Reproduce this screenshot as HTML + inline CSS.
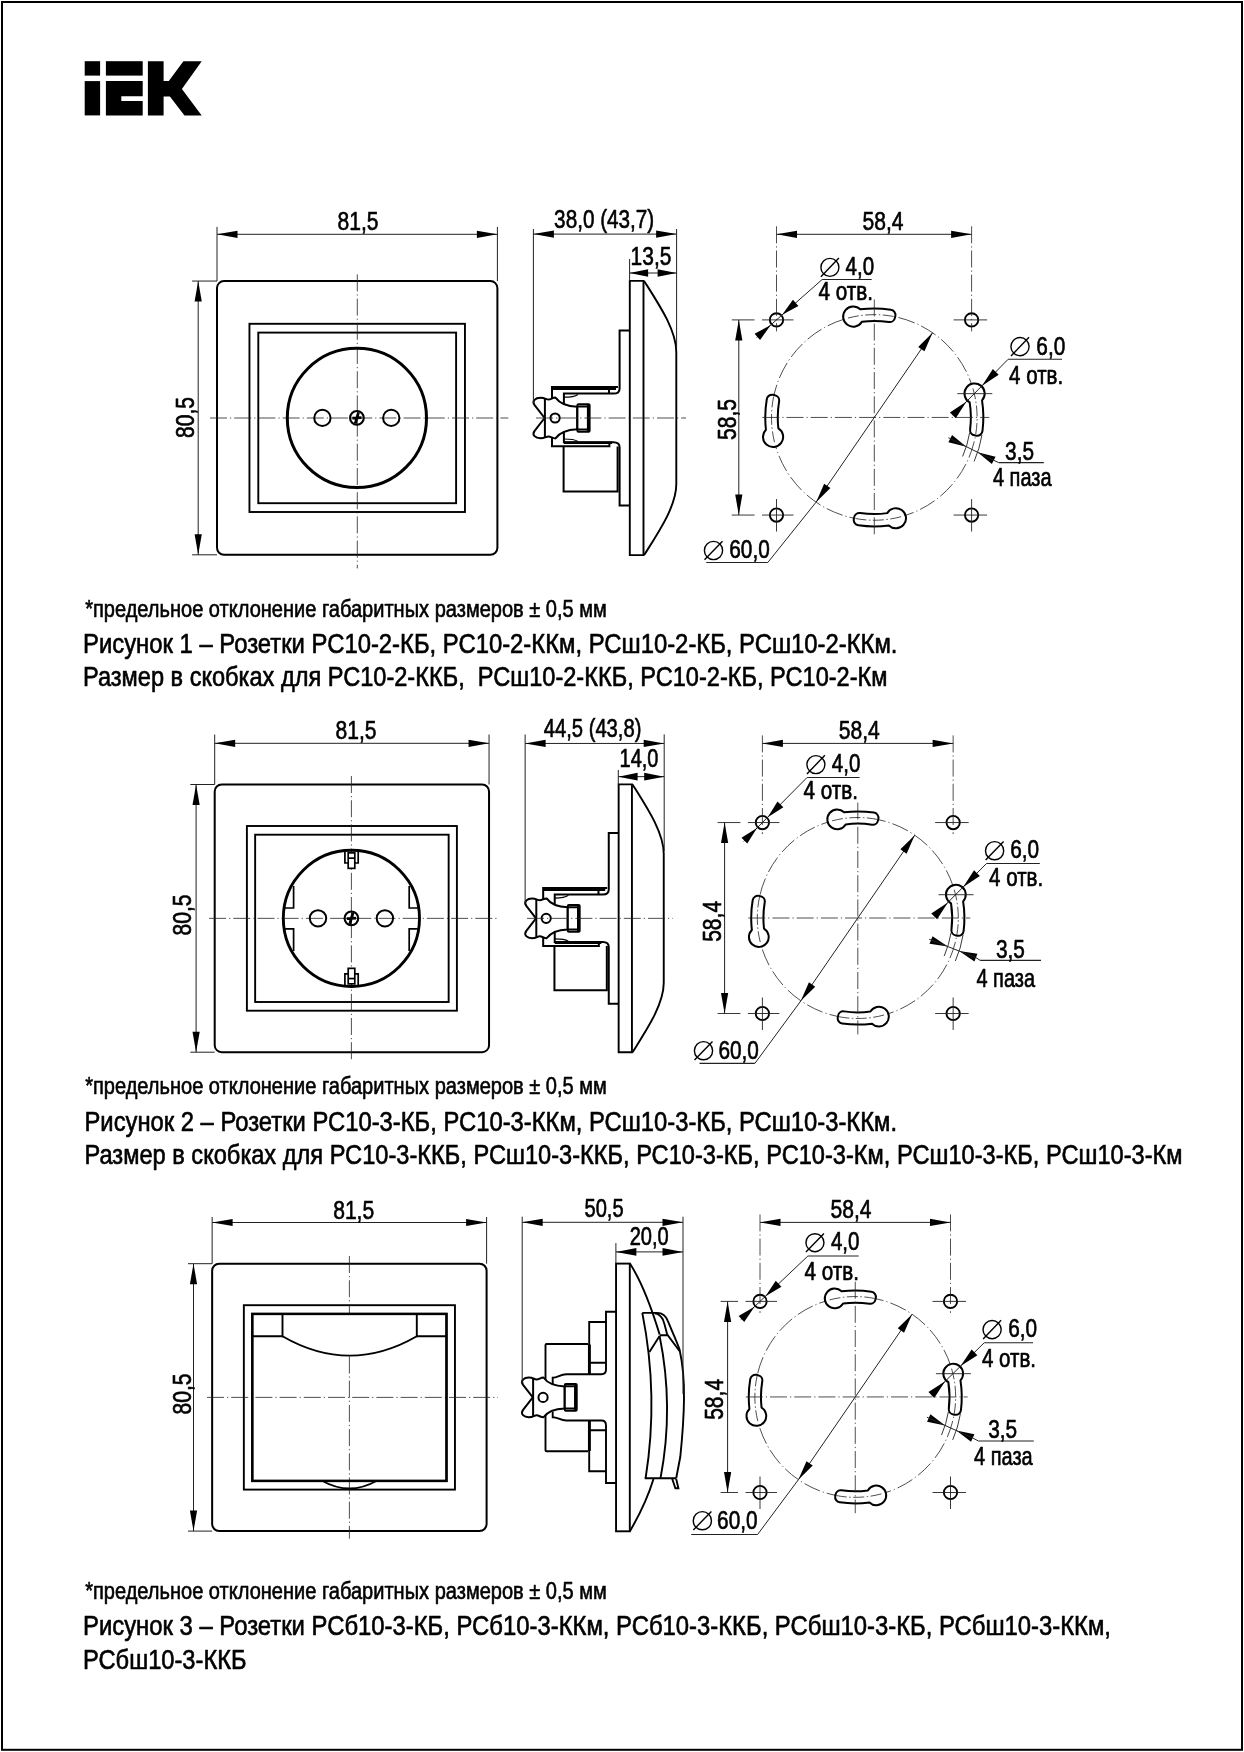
<!DOCTYPE html>
<html lang="ru"><head><meta charset="utf-8"><title>IEK</title>
<style>html,body{margin:0;padding:0;background:#fff}body{width:1244px;height:1752px;overflow:hidden}svg{display:block;will-change:transform}text{font-family:"Liberation Sans",sans-serif;fill:#000;stroke:#000;stroke-width:0.65px;stroke-linejoin:round}</style></head>
<body>
<svg width="1244" height="1752" viewBox="0 0 1244 1752" fill="none" stroke="#000">
<rect x="2" y="2" width="1240" height="1747.8" stroke-width="2"/>
<g fill="#000" stroke="none"><rect x="84.7" y="61.2" width="15.4" height="14.4"/><rect x="84.7" y="81.1" width="15.4" height="34.3"/><rect x="105.9" y="61.2" width="36.8" height="14.4"/><path d="M105.9,81.1 H142.7 V96.3 H121.3 V101 H142.7 V115.4 H105.9 Z"/><path d="M147.9,61.2 H163.6 V81.1 H168.8 L183.4,61.2 H201.7 L181.9,89 L201.7,115.4 H184.5 L169.9,96.6 L163.6,96.6 V115.4 H147.9 Z"/></g>
<rect x="217.00" y="281.05" width="280.40" height="273.75" rx="7" stroke-width="2.0" />
<rect x="249.45" y="323.80" width="215.50" height="188.20" rx="0" stroke-width="1.9" />
<rect x="258.30" y="332.60" width="197.80" height="170.60" rx="0" stroke-width="1.9" />
<line x1="357.30" y1="274.40" x2="357.30" y2="568.40" stroke-width="0.8" stroke-dasharray="17 3 1.2 3" stroke="#222"/>
<line x1="210.00" y1="418.00" x2="508.30" y2="418.00" stroke-width="0.8" stroke-dasharray="17 3 1.2 3" stroke="#222"/>
<line x1="217.00" y1="226.90" x2="217.00" y2="281.05" stroke-width="1.0" stroke="#222"/>
<line x1="497.40" y1="226.90" x2="497.40" y2="281.05" stroke-width="1.0" stroke="#222"/>
<line x1="217.00" y1="234.30" x2="497.40" y2="234.30" stroke-width="1.0" stroke="#222"/>
<polygon points="217.00,234.30 237.50,237.90 237.50,230.70" fill="#000" stroke="none"/>
<polygon points="497.40,234.30 476.90,230.70 476.90,237.90" fill="#000" stroke="none"/>
<line x1="192.10" y1="281.05" x2="217.00" y2="281.05" stroke-width="1.0" stroke="#222"/>
<line x1="192.10" y1="554.80" x2="217.00" y2="554.80" stroke-width="1.0" stroke="#222"/>
<line x1="198.20" y1="281.05" x2="198.20" y2="554.80" stroke-width="1.0" stroke="#222"/>
<polygon points="198.20,281.05 194.60,301.55 201.80,301.55" fill="#000" stroke="none"/>
<polygon points="198.20,554.80 201.80,534.30 194.60,534.30" fill="#000" stroke="none"/>
<text transform="translate(358.10,230.20) translate(-20.51,0) scale(0.8100,1)" font-size="26">81,5</text>
<text transform="translate(193.60,417.50) rotate(-90) translate(-20.51,0) scale(0.8100,1)" font-size="26">80,5</text>
<circle cx="356.90" cy="417.95" r="69.60" stroke-width="3.0" />
<circle cx="322.40" cy="417.90" r="8.15" stroke-width="2.0" />
<circle cx="391.25" cy="417.90" r="8.15" stroke-width="2.0" />
<circle cx="356.90" cy="417.90" r="6.85" stroke-width="2.1" />
<path d="M352.29999999999995,418.2 L361.5,417.59999999999997 M358.5,412.29999999999995 L355.29999999999995,423.5" stroke-width="2.8" />
<path d="M 629.80 280.90 L 643.50 280.90 L 643.50 555.10 L 629.80 555.10 Z" stroke-width="1.9" />
<path d="M 644.10 280.90 C 659.00 304.50 676.30 330.00 676.30 352.00 L 676.30 484.00 C 676.30 506.00 659.00 531.50 644.10 555.10" stroke-width="1.9" />
<path d="M 629.80 330.60 L 619.60 330.60 L 619.60 388.40 Q 619.60 393.60 613.50 393.60 L 563.90 393.60 L 563.90 405.90" stroke-width="2.0" />
<path d="M 552.00 399.40 L 552.00 387.00 L 618.00 387.00" stroke-width="2.0" />
<path d="M 552.00 388.60 L 616.00 388.60" stroke-width="2.6" />
<path d="M 609.00 388.40 L 609.00 393.60" stroke-width="2.0" />
<path d="M 564.00 397.20 Q 574.00 397.20 578.00 394.40" stroke-width="1.2" />
<path d="M 629.80 505.50 L 619.60 505.50 L 619.60 447.40 Q 619.60 442.20 613.50 442.20 L 563.90 442.20 L 563.90 430.40" stroke-width="2.0" />
<path d="M 552.00 437.40 L 552.00 446.30 L 609.40 446.30 L 609.40 442.20" stroke-width="2.0" />
<path d="M 563.90 442.80 L 612.00 442.80" stroke-width="2.6" />
<path d="M 564.00 439.00 Q 574.00 439.00 578.00 441.40" stroke-width="1.2" />
<path d="M 563.60 446.40 L 563.60 491.50 L 617.60 491.50 L 617.60 446.40" stroke-width="2.0" />
<path d="M 544.60,418.00 L 534.60,405.20 C 531.50,400.90 535.50,397.70 540.50,397.70 C 545.00,397.70 546.00,399.60 548.50,399.60 C 551.00,399.60 552.50,397.60 555.50,397.60 C 560.00,403.90 568.00,406.40 577.20,406.70 L 577.20,429.30 C 568.00,429.60 560.00,432.10 555.50,438.40 C 552.50,438.40 551.00,436.40 548.50,436.40 C 546.00,436.40 545.00,438.30 540.50,438.30 C 535.50,438.30 531.50,435.10 534.60,430.80 Z" stroke-width="2.0" fill="#fff" stroke-linejoin="round"/>
<path d="M544.90,399.00 L544.90,437.00" stroke-width="2.0" />
<circle cx="555.10" cy="418.00" r="4.60" stroke-width="2.0" />
<rect x="577.40" y="404.30" width="12.20" height="27.50" rx="1" stroke-width="2.0" fill="#fff"/>
<path d="M577.40,406.60 L588.00,406.60 M577.40,429.50 L588.00,429.50" stroke-width="2.0" />
<path d="M588.20,404.90 L588.20,431.20" stroke-width="2.6" />
<line x1="536.00" y1="418.00" x2="686.00" y2="418.00" stroke-width="0.8" stroke-dasharray="17 3 1.2 3" stroke="#222"/>
<line x1="533.40" y1="229.00" x2="533.40" y2="403.00" stroke-width="1.0" stroke="#222"/>
<line x1="676.60" y1="229.00" x2="676.60" y2="348.00" stroke-width="1.0" stroke="#222"/>
<line x1="533.40" y1="234.10" x2="676.60" y2="234.10" stroke-width="1.0" stroke="#222"/>
<polygon points="533.40,234.10 553.90,237.70 553.90,230.50" fill="#000" stroke="none"/>
<polygon points="676.60,234.10 656.10,230.50 656.10,237.70" fill="#000" stroke="none"/>
<line x1="629.60" y1="259.00" x2="629.60" y2="281.00" stroke-width="1.0" stroke="#222"/>
<line x1="629.60" y1="273.00" x2="676.60" y2="273.00" stroke-width="1.0" stroke="#222"/>
<polygon points="629.60,273.00 648.10,276.80 648.10,269.20" fill="#000" stroke="none"/>
<polygon points="676.60,273.00 657.60,269.20 657.60,276.80" fill="#000" stroke="none"/>
<text transform="translate(554.90,228.10) translate(-0.79,0) scale(0.7967,1)" font-size="26">38,0 (43,7)</text>
<text transform="translate(632.20,264.70) translate(-1.59,0) scale(0.8054,1)" font-size="26">13,5</text>
<circle cx="874.30" cy="417.45" r="102.80" stroke-width="0.8" stroke="#222" stroke-dasharray="17 3 1.2 3"/>
<path d="M860.30,309.30 A109.05,109.05 0 0 1 890.79,309.65 A5.40,5.40 0 0 1 895.34,315.96 L894.99,317.62 A5.40,5.40 0 0 1 888.90,322.01 A96.55,96.55 0 0 0 861.90,321.70 A10.10,10.10 0 1 1 860.30,309.30 Z" stroke-width="2.0" fill="#fff" stroke-linejoin="round"/>
<path d="M848.04,318.06 A102.80,102.80 0 0 1 894.27,316.61" stroke-width="0.8" stroke="#222" stroke-dasharray="11 2.5 1.5 2.5"/>
<path d="M982.01,400.43 A109.05,109.05 0 0 1 982.51,430.93 A5.40,5.40 0 0 1 976.34,435.64 L974.67,435.35 A5.40,5.40 0 0 1 970.11,429.38 A96.55,96.55 0 0 0 969.67,402.38 A10.10,10.10 0 1 1 982.01,400.43 Z" stroke-width="2.0" fill="#fff" stroke-linejoin="round"/>
<path d="M972.92,388.43 A102.80,102.80 0 0 1 975.66,434.59" stroke-width="0.8" stroke="#222" stroke-dasharray="11 2.5 1.5 2.5"/>
<path d="M888.87,525.52 A109.05,109.05 0 0 1 858.37,525.33 A5.40,5.40 0 0 1 853.80,519.05 L854.13,517.39 A5.40,5.40 0 0 1 860.20,512.96 A96.55,96.55 0 0 0 887.20,513.13 A10.10,10.10 0 1 1 888.87,525.52 Z" stroke-width="2.0" fill="#fff" stroke-linejoin="round"/>
<path d="M901.08,516.70 A102.80,102.80 0 0 1 854.86,518.40" stroke-width="0.8" stroke="#222" stroke-dasharray="11 2.5 1.5 2.5"/>
<path d="M765.95,429.75 A109.05,109.05 0 0 1 766.78,399.26 A5.40,5.40 0 0 1 773.15,394.82 L774.81,395.19 A5.40,5.40 0 0 1 779.10,401.35 A96.55,96.55 0 0 0 778.37,428.34 A10.10,10.10 0 1 1 765.95,429.75 Z" stroke-width="2.0" fill="#fff" stroke-linejoin="round"/>
<path d="M774.51,442.15 A102.80,102.80 0 0 1 773.78,395.90" stroke-width="0.8" stroke="#222" stroke-dasharray="11 2.5 1.5 2.5"/>
<line x1="874.30" y1="299.45" x2="874.30" y2="536.45" stroke-width="0.8" stroke-dasharray="17 3 1.2 3" stroke="#222"/>
<line x1="762.30" y1="417.45" x2="989.30" y2="417.45" stroke-width="0.8" stroke-dasharray="17 3 1.2 3" stroke="#222"/>
<circle cx="776.50" cy="319.90" r="6.65" stroke-width="1.9" />
<circle cx="776.50" cy="515.05" r="6.65" stroke-width="1.9" />
<circle cx="971.60" cy="319.90" r="6.65" stroke-width="1.9" />
<circle cx="971.60" cy="515.05" r="6.65" stroke-width="1.9" />
<line x1="776.50" y1="226.30" x2="776.50" y2="331.40" stroke-width="0.8" stroke-dasharray="17 3 1.2 3" stroke="#222"/>
<line x1="776.50" y1="499.05" x2="776.50" y2="531.55" stroke-width="0.9" stroke="#222"/>
<line x1="971.60" y1="226.30" x2="971.60" y2="331.40" stroke-width="0.8" stroke-dasharray="17 3 1.2 3" stroke="#222"/>
<line x1="971.60" y1="499.05" x2="971.60" y2="531.55" stroke-width="0.9" stroke="#222"/>
<line x1="731.80" y1="319.90" x2="754.50" y2="319.90" stroke-width="0.9" stroke="#222"/>
<line x1="762.00" y1="319.90" x2="793.50" y2="319.90" stroke-width="0.9" stroke="#222"/>
<line x1="953.60" y1="319.90" x2="987.10" y2="319.90" stroke-width="0.9" stroke="#222"/>
<line x1="731.80" y1="515.05" x2="754.50" y2="515.05" stroke-width="0.9" stroke="#222"/>
<line x1="762.00" y1="515.05" x2="793.50" y2="515.05" stroke-width="0.9" stroke="#222"/>
<line x1="953.60" y1="515.05" x2="987.10" y2="515.05" stroke-width="0.9" stroke="#222"/>
<line x1="776.50" y1="234.30" x2="971.60" y2="234.30" stroke-width="1.0" stroke="#222"/>
<polygon points="776.50,234.30 797.00,237.90 797.00,230.70" fill="#000" stroke="none"/>
<polygon points="971.60,234.30 951.10,230.70 951.10,237.90" fill="#000" stroke="none"/>
<line x1="738.80" y1="319.90" x2="738.80" y2="515.05" stroke-width="1.0" stroke="#222"/>
<polygon points="738.80,319.90 735.20,340.40 742.40,340.40" fill="#000" stroke="none"/>
<polygon points="738.80,515.05 742.40,494.55 735.20,494.55" fill="#000" stroke="none"/>
<text transform="translate(883.20,229.90) translate(-20.61,0) scale(0.8100,1)" font-size="26">58,4</text>
<text transform="translate(735.90,419.40) rotate(-90) translate(-20.48,0) scale(0.8100,1)" font-size="26">58,5</text>
<line x1="822.20" y1="279.45" x2="871.70" y2="279.45" stroke-width="1.1" stroke="#222"/>
<line x1="822.20" y1="279.45" x2="756.58" y2="337.53" stroke-width="1.0" stroke="#222"/>
<polygon points="782.19,314.86 798.39,306.00 792.95,299.86" fill="#000" stroke="none"/>
<polygon points="770.81,324.94 754.61,333.80 760.05,339.94" fill="#000" stroke="none"/>
<circle cx="829.90" cy="267.40" r="9.00" stroke-width="1.4" />
<line x1="820.90" y1="276.70" x2="838.90" y2="258.10" stroke-width="1.4" />
<text transform="translate(873.30,274.80) translate(-27.75,0) scale(0.7895,1)" font-size="26">4,0</text>
<text transform="translate(819.00,299.80) translate(-0.45,0) scale(0.8263,1)" font-size="25">4 отв.</text>
<line x1="1008.10" y1="359.30" x2="1062.00" y2="359.30" stroke-width="1.1" stroke="#222"/>
<line x1="1008.10" y1="359.30" x2="953.18" y2="415.07" stroke-width="1.0" stroke="#222"/>
<polygon points="982.09,385.72 998.69,374.70 992.85,368.95" fill="#000" stroke="none"/>
<polygon points="966.51,401.54 949.91,412.55 955.75,418.31" fill="#000" stroke="none"/>
<line x1="957.30" y1="393.63" x2="992.30" y2="393.63" stroke-width="0.9" stroke="#222"/>
<circle cx="1020.00" cy="346.60" r="9.10" stroke-width="1.4" />
<line x1="1011.00" y1="355.90" x2="1029.00" y2="337.30" stroke-width="1.4" />
<text transform="translate(1064.50,354.60) translate(-28.14,0) scale(0.8005,1)" font-size="26">6,0</text>
<text transform="translate(1009.50,383.50) translate(-0.45,0) scale(0.8216,1)" font-size="25">4 отв.</text>
<line x1="998.80" y1="462.65" x2="1043.80" y2="462.65" stroke-width="1.1" stroke="#222"/>
<path d="M969.63,432.72 A96.55,96.55 0 0 1 962.64,456.41" stroke-width="0.9" stroke="#222"/>
<path d="M981.98,434.70 A109.05,109.05 0 0 1 974.08,461.46" stroke-width="0.9" stroke="#222"/>
<polygon points="977.63,452.30 991.89,464.03 995.56,456.70" fill="#000" stroke="none"/>
<polygon points="966.33,446.64 952.07,434.92 948.40,442.25" fill="#000" stroke="none"/>
<line x1="948.45" y1="437.69" x2="993.73" y2="460.36" stroke-width="1.0" stroke="#222"/>
<line x1="993.73" y1="460.36" x2="998.80" y2="462.65" stroke-width="1.0" stroke="#222"/>
<text transform="translate(1005.90,459.80) translate(-0.79,0) scale(0.8009,1)" font-size="26">3,5</text>
<text transform="translate(993.40,485.50) translate(-0.44,0) scale(0.7989,1)" font-size="25">4 паза</text>
<line x1="706.25" y1="562.55" x2="767.75" y2="562.55" stroke-width="1.1" stroke="#222"/>
<line x1="816.07" y1="502.17" x2="932.53" y2="332.73" stroke-width="1.0" stroke="#222"/>
<line x1="767.75" y1="562.55" x2="816.07" y2="502.17" stroke-width="1.0" stroke="#222"/>
<polygon points="932.53,332.73 918.18,346.90 924.44,351.20" fill="#000" stroke="none"/>
<polygon points="816.07,502.17 830.42,488.00 824.16,483.70" fill="#000" stroke="none"/>
<circle cx="713.50" cy="550.50" r="9.10" stroke-width="1.4" />
<line x1="704.50" y1="559.80" x2="722.50" y2="541.20" stroke-width="1.4" />
<text transform="translate(768.95,558.10) translate(-39.64,0) scale(0.7990,1)" font-size="26">60,0</text>
<rect x="214.70" y="784.50" width="274.35" height="267.70" rx="7" stroke-width="2.0" />
<rect x="246.90" y="826.00" width="210.00" height="184.70" rx="0" stroke-width="1.9" />
<rect x="255.15" y="834.70" width="193.50" height="167.30" rx="0" stroke-width="1.9" />
<line x1="351.40" y1="776.00" x2="351.40" y2="1062.00" stroke-width="0.8" stroke-dasharray="17 3 1.2 3" stroke="#222"/>
<line x1="209.10" y1="918.35" x2="499.50" y2="918.35" stroke-width="0.8" stroke-dasharray="17 3 1.2 3" stroke="#222"/>
<line x1="214.70" y1="734.50" x2="214.70" y2="784.50" stroke-width="1.0" stroke="#222"/>
<line x1="489.05" y1="734.50" x2="489.05" y2="784.50" stroke-width="1.0" stroke="#222"/>
<line x1="214.70" y1="743.30" x2="489.05" y2="743.30" stroke-width="1.0" stroke="#222"/>
<polygon points="214.70,743.30 235.20,746.90 235.20,739.70" fill="#000" stroke="none"/>
<polygon points="489.05,743.30 468.55,739.70 468.55,746.90" fill="#000" stroke="none"/>
<line x1="190.30" y1="784.50" x2="214.70" y2="784.50" stroke-width="1.0" stroke="#222"/>
<line x1="190.30" y1="1052.20" x2="214.70" y2="1052.20" stroke-width="1.0" stroke="#222"/>
<line x1="196.10" y1="784.50" x2="196.10" y2="1052.20" stroke-width="1.0" stroke="#222"/>
<polygon points="196.10,784.50 192.50,805.00 199.70,805.00" fill="#000" stroke="none"/>
<polygon points="196.10,1052.20 199.70,1031.70 192.50,1031.70" fill="#000" stroke="none"/>
<text transform="translate(356.00,738.75) translate(-20.51,0) scale(0.8100,1)" font-size="26">81,5</text>
<text transform="translate(191.05,914.95) rotate(-90) translate(-20.51,0) scale(0.8100,1)" font-size="26">80,5</text>
<circle cx="351.40" cy="918.35" r="68.10" stroke-width="2.9" />
<circle cx="318.00" cy="918.35" r="8.20" stroke-width="2.0" />
<circle cx="384.90" cy="918.35" r="8.20" stroke-width="2.0" />
<circle cx="351.40" cy="918.35" r="6.85" stroke-width="2.1" />
<path d="M346.79999999999995,918.65 L356.0,918.0500000000001 M353.0,912.75 L349.79999999999995,923.95" stroke-width="2.8" />
<path d="M293.6,885.9 V908.0 H283.8 M283.8,928.8 H293.6 V950.9" stroke-width="1.7" />
<path d="M344.9,850.9 V863.0 H348.2 M354.59999999999997,863.0 H358.2 V850.9" stroke-width="1.7" />
<rect x="348.20" y="852.85" width="6.60" height="15.50" rx="0" stroke-width="1.7" fill="#fff"/>
<line x1="348.20" y1="858.15" x2="354.80" y2="858.15" stroke-width="1.7" />
<path d="M409.2,885.9 V908.0 H419.0 M419.0,928.8 H409.2 V950.9" stroke-width="1.7" />
<path d="M344.9,985.9 V973.8 H348.2 M354.59999999999997,973.8 H358.2 V985.9" stroke-width="1.7" />
<rect x="348.20" y="968.35" width="6.60" height="15.50" rx="0" stroke-width="1.7" fill="#fff"/>
<line x1="348.20" y1="978.55" x2="354.80" y2="978.55" stroke-width="1.7" />
<path d="M 618.65 784.40 L 631.94 784.40 L 631.94 1052.30 L 618.65 1052.30 Z" stroke-width="1.9" />
<path d="M 632.52 784.40 C 646.97 807.46 663.75 832.37 663.75 853.87 L 663.75 982.83 C 663.75 1004.33 646.97 1029.24 632.52 1052.30" stroke-width="1.9" />
<path d="M 618.65 832.96 L 608.76 832.96 L 608.76 889.43 Q 608.76 894.51 602.84 894.51 L 554.73 894.51 L 554.73 906.53" stroke-width="2.0" />
<path d="M 543.18 900.18 L 543.18 888.06 L 607.20 888.06" stroke-width="2.0" />
<path d="M 543.18 889.63 L 605.26 889.63" stroke-width="2.6" />
<path d="M 598.47 889.43 L 598.47 894.51" stroke-width="2.0" />
<path d="M 554.82 898.03 Q 564.52 898.03 568.40 895.29" stroke-width="1.2" />
<path d="M 618.65 1003.84 L 608.76 1003.84 L 608.76 947.07 Q 608.76 941.99 602.84 941.99 L 554.73 941.99 L 554.73 930.46" stroke-width="2.0" />
<path d="M 543.18 937.30 L 543.18 946.00 L 598.86 946.00 L 598.86 941.99" stroke-width="2.0" />
<path d="M 554.73 942.58 L 601.38 942.58" stroke-width="2.6" />
<path d="M 554.82 938.87 Q 564.52 938.87 568.40 941.21" stroke-width="1.2" />
<path d="M 554.44 946.10 L 554.44 990.16 L 606.82 990.16 L 606.82 946.10" stroke-width="2.0" />
<path d="M 536.01,918.35 L 526.31,905.84 C 523.30,901.64 527.18,898.52 532.03,898.52 C 536.39,898.52 537.36,900.37 539.79,900.37 C 542.21,900.37 543.67,898.42 546.58,898.42 C 550.94,904.57 558.70,907.02 567.63,907.31 L 567.63,929.39 C 558.70,929.68 550.94,932.13 546.58,938.28 C 543.67,938.28 542.21,936.33 539.79,936.33 C 537.36,936.33 536.39,938.18 532.03,938.18 C 527.18,938.18 523.30,935.06 526.31,930.86 Z" stroke-width="2.0" fill="#fff" stroke-linejoin="round"/>
<path d="M536.30,899.79 L536.30,936.91" stroke-width="2.0" />
<circle cx="546.19" cy="918.35" r="4.60" stroke-width="2.0" />
<rect x="567.82" y="904.97" width="11.84" height="26.86" rx="1" stroke-width="2.0" fill="#fff"/>
<path d="M567.82,907.21 L578.10,907.21 M567.82,929.59 L578.10,929.59" stroke-width="2.0" />
<path d="M578.30,905.55 L578.30,931.25" stroke-width="2.6" />
<line x1="527.00" y1="918.35" x2="672.80" y2="918.35" stroke-width="0.8" stroke-dasharray="17 3 1.2 3" stroke="#222"/>
<line x1="525.14" y1="734.40" x2="525.14" y2="904.50" stroke-width="1.0" stroke="#222"/>
<line x1="664.20" y1="734.40" x2="664.20" y2="851.00" stroke-width="1.0" stroke="#222"/>
<line x1="525.14" y1="743.45" x2="664.20" y2="743.45" stroke-width="1.0" stroke="#222"/>
<polygon points="525.14,743.45 545.64,747.05 545.64,739.85" fill="#000" stroke="none"/>
<polygon points="664.20,743.45 643.70,739.85 643.70,747.05" fill="#000" stroke="none"/>
<line x1="618.30" y1="770.00" x2="618.30" y2="784.40" stroke-width="1.0" stroke="#222"/>
<line x1="618.30" y1="776.65" x2="664.20" y2="776.65" stroke-width="1.0" stroke="#222"/>
<polygon points="618.30,776.65 637.60,780.45 637.60,772.85" fill="#000" stroke="none"/>
<polygon points="664.20,776.65 644.20,772.85 644.20,780.45" fill="#000" stroke="none"/>
<text transform="translate(544.20,737.00) translate(-0.44,0) scale(0.7770,1)" font-size="26">44,5 (43,8)</text>
<text transform="translate(621.10,767.10) translate(-1.52,0) scale(0.7684,1)" font-size="26">14,0</text>
<circle cx="857.80" cy="918.00" r="100.50" stroke-width="0.8" stroke="#222" stroke-dasharray="17 3 1.2 3"/>
<path d="M844.11,812.27 A106.61,106.61 0 0 1 873.93,812.61 A5.28,5.28 0 0 1 878.37,818.78 L878.03,820.41 A5.28,5.28 0 0 1 872.08,824.70 A94.39,94.39 0 0 0 845.68,824.39 A9.88,9.88 0 1 1 844.11,812.27 Z" stroke-width="2.0" fill="#fff" stroke-linejoin="round"/>
<path d="M832.13,820.83 A100.50,100.50 0 0 1 877.32,819.41" stroke-width="0.8" stroke="#222" stroke-dasharray="11 2.5 1.5 2.5"/>
<path d="M963.11,901.37 A106.61,106.61 0 0 1 963.59,931.18 A5.28,5.28 0 0 1 957.56,935.79 L955.92,935.50 A5.28,5.28 0 0 1 951.46,929.67 A94.39,94.39 0 0 0 951.03,903.27 A9.88,9.88 0 1 1 963.11,901.37 Z" stroke-width="2.0" fill="#fff" stroke-linejoin="round"/>
<path d="M954.21,889.62 A100.50,100.50 0 0 1 956.89,934.76" stroke-width="0.8" stroke="#222" stroke-dasharray="11 2.5 1.5 2.5"/>
<path d="M872.04,1023.66 A106.61,106.61 0 0 1 842.23,1023.47 A5.28,5.28 0 0 1 837.75,1017.33 L838.08,1015.70 A5.28,5.28 0 0 1 844.01,1011.37 A94.39,94.39 0 0 0 870.41,1011.54 A9.88,9.88 0 1 1 872.04,1023.66 Z" stroke-width="2.0" fill="#fff" stroke-linejoin="round"/>
<path d="M883.98,1015.03 A100.50,100.50 0 0 1 838.80,1016.69" stroke-width="0.8" stroke="#222" stroke-dasharray="11 2.5 1.5 2.5"/>
<path d="M751.87,930.03 A106.61,106.61 0 0 1 752.68,900.22 A5.28,5.28 0 0 1 758.91,895.88 L760.54,896.24 A5.28,5.28 0 0 1 764.73,902.26 A94.39,94.39 0 0 0 764.01,928.65 A9.88,9.88 0 1 1 751.87,930.03 Z" stroke-width="2.0" fill="#fff" stroke-linejoin="round"/>
<path d="M760.24,942.14 A100.50,100.50 0 0 1 759.53,896.93" stroke-width="0.8" stroke="#222" stroke-dasharray="11 2.5 1.5 2.5"/>
<line x1="857.80" y1="802.60" x2="857.80" y2="1034.38" stroke-width="0.8" stroke-dasharray="17 3 1.2 3" stroke="#222"/>
<line x1="748.26" y1="918.00" x2="970.27" y2="918.00" stroke-width="0.8" stroke-dasharray="17 3 1.2 3" stroke="#222"/>
<circle cx="762.40" cy="822.55" r="6.65" stroke-width="1.9" />
<circle cx="762.40" cy="1013.50" r="6.65" stroke-width="1.9" />
<circle cx="953.15" cy="822.55" r="6.65" stroke-width="1.9" />
<circle cx="953.15" cy="1013.50" r="6.65" stroke-width="1.9" />
<line x1="762.40" y1="735.40" x2="762.40" y2="834.05" stroke-width="0.8" stroke-dasharray="17 3 1.2 3" stroke="#222"/>
<line x1="762.40" y1="997.50" x2="762.40" y2="1030.00" stroke-width="0.9" stroke="#222"/>
<line x1="953.15" y1="735.40" x2="953.15" y2="834.05" stroke-width="0.8" stroke-dasharray="17 3 1.2 3" stroke="#222"/>
<line x1="953.15" y1="997.50" x2="953.15" y2="1030.00" stroke-width="0.9" stroke="#222"/>
<line x1="717.60" y1="822.55" x2="740.40" y2="822.55" stroke-width="0.9" stroke="#222"/>
<line x1="747.90" y1="822.55" x2="779.40" y2="822.55" stroke-width="0.9" stroke="#222"/>
<line x1="935.15" y1="822.55" x2="968.65" y2="822.55" stroke-width="0.9" stroke="#222"/>
<line x1="717.60" y1="1013.50" x2="740.40" y2="1013.50" stroke-width="0.9" stroke="#222"/>
<line x1="747.90" y1="1013.50" x2="779.40" y2="1013.50" stroke-width="0.9" stroke="#222"/>
<line x1="935.15" y1="1013.50" x2="968.65" y2="1013.50" stroke-width="0.9" stroke="#222"/>
<line x1="762.40" y1="743.40" x2="953.15" y2="743.40" stroke-width="1.0" stroke="#222"/>
<polygon points="762.40,743.40 782.90,747.00 782.90,739.80" fill="#000" stroke="none"/>
<polygon points="953.15,743.40 932.65,739.80 932.65,747.00" fill="#000" stroke="none"/>
<line x1="724.60" y1="822.55" x2="724.60" y2="1013.50" stroke-width="1.0" stroke="#222"/>
<polygon points="724.60,822.55 721.00,843.05 728.20,843.05" fill="#000" stroke="none"/>
<polygon points="724.60,1013.50 728.20,993.00 721.00,993.00" fill="#000" stroke="none"/>
<text transform="translate(859.40,738.60) translate(-20.61,0) scale(0.8100,1)" font-size="26">58,4</text>
<text transform="translate(720.60,921.25) rotate(-90) translate(-20.61,0) scale(0.8100,1)" font-size="26">58,4</text>
<line x1="807.10" y1="777.45" x2="859.60" y2="777.45" stroke-width="1.1" stroke="#222"/>
<line x1="807.10" y1="777.45" x2="743.67" y2="841.44" stroke-width="1.0" stroke="#222"/>
<polygon points="767.75,817.15 783.33,807.25 777.51,801.48" fill="#000" stroke="none"/>
<polygon points="757.05,827.95 741.47,837.85 747.29,843.62" fill="#000" stroke="none"/>
<circle cx="815.90" cy="764.60" r="9.00" stroke-width="1.4" />
<line x1="806.90" y1="773.90" x2="824.90" y2="755.30" stroke-width="1.4" />
<text transform="translate(859.60,772.10) translate(-27.75,0) scale(0.7895,1)" font-size="26">4,0</text>
<text transform="translate(804.00,798.80) translate(-0.45,0) scale(0.8263,1)" font-size="25">4 отв.</text>
<line x1="986.50" y1="863.50" x2="1039.80" y2="863.50" stroke-width="1.1" stroke="#222"/>
<line x1="986.50" y1="863.50" x2="934.53" y2="915.93" stroke-width="1.0" stroke="#222"/>
<polygon points="963.22,886.98 979.86,876.02 974.04,870.25" fill="#000" stroke="none"/>
<polygon points="947.91,902.43 931.27,913.40 937.09,919.17" fill="#000" stroke="none"/>
<line x1="938.56" y1="894.71" x2="973.56" y2="894.71" stroke-width="0.9" stroke="#222"/>
<circle cx="994.60" cy="850.70" r="9.10" stroke-width="1.4" />
<line x1="985.60" y1="860.00" x2="1003.60" y2="841.40" stroke-width="1.4" />
<text transform="translate(1038.40,858.40) translate(-28.14,0) scale(0.8005,1)" font-size="26">6,0</text>
<text transform="translate(989.50,886.30) translate(-0.45,0) scale(0.8216,1)" font-size="25">4 отв.</text>
<line x1="980.20" y1="960.40" x2="1041.00" y2="960.40" stroke-width="1.1" stroke="#222"/>
<path d="M951.00,932.93 A94.39,94.39 0 0 1 944.16,956.09" stroke-width="0.9" stroke="#222"/>
<path d="M963.07,934.86 A106.61,106.61 0 0 1 955.35,961.02" stroke-width="0.9" stroke="#222"/>
<polygon points="959.17,951.03 974.41,961.44 977.42,953.81" fill="#000" stroke="none"/>
<polygon points="947.77,946.54 932.52,936.13 929.52,943.76" fill="#000" stroke="none"/>
<line x1="929.16" y1="939.21" x2="975.91" y2="957.63" stroke-width="1.0" stroke="#222"/>
<line x1="975.91" y1="957.63" x2="980.20" y2="960.40" stroke-width="1.0" stroke="#222"/>
<text transform="translate(996.70,957.50) translate(-0.79,0) scale(0.8009,1)" font-size="26">3,5</text>
<text transform="translate(976.90,986.80) translate(-0.44,0) scale(0.7989,1)" font-size="25">4 паза</text>
<line x1="699.50" y1="1063.40" x2="754.90" y2="1063.40" stroke-width="1.1" stroke="#222"/>
<line x1="800.88" y1="1000.82" x2="914.72" y2="835.18" stroke-width="1.0" stroke="#222"/>
<line x1="754.90" y1="1063.40" x2="800.88" y2="1000.82" stroke-width="1.0" stroke="#222"/>
<polygon points="914.72,835.18 900.38,849.34 906.64,853.65" fill="#000" stroke="none"/>
<polygon points="800.88,1000.82 815.22,986.66 808.96,982.35" fill="#000" stroke="none"/>
<circle cx="703.50" cy="1050.70" r="9.10" stroke-width="1.4" />
<line x1="694.50" y1="1060.00" x2="712.50" y2="1041.40" stroke-width="1.4" />
<text transform="translate(758.15,1058.80) translate(-39.64,0) scale(0.7990,1)" font-size="26">60,0</text>
<rect x="212.15" y="1263.70" width="274.45" height="267.40" rx="7" stroke-width="2.0" />
<rect x="243.85" y="1305.20" width="211.10" height="184.40" rx="0" stroke-width="1.9" />
<rect x="252.30" y="1313.90" width="194.20" height="167.00" rx="0" stroke-width="1.9" />
<line x1="349.40" y1="1256.00" x2="349.40" y2="1313.50" stroke-width="0.8" stroke-dasharray="17 3 1.2 3" stroke="#222"/>
<line x1="207.00" y1="1397.40" x2="498.00" y2="1397.40" stroke-width="0.8" stroke-dasharray="17 3 1.2 3" stroke="#222"/>
<line x1="349.40" y1="1356.50" x2="349.40" y2="1538.70" stroke-width="0.8" stroke-dasharray="17 3 1.2 3" stroke="#222"/>
<line x1="212.15" y1="1217.00" x2="212.15" y2="1263.70" stroke-width="1.0" stroke="#222"/>
<line x1="486.60" y1="1217.00" x2="486.60" y2="1263.70" stroke-width="1.0" stroke="#222"/>
<line x1="212.15" y1="1222.50" x2="486.60" y2="1222.50" stroke-width="1.0" stroke="#222"/>
<polygon points="212.15,1222.50 232.65,1226.10 232.65,1218.90" fill="#000" stroke="none"/>
<polygon points="486.60,1222.50 466.10,1218.90 466.10,1226.10" fill="#000" stroke="none"/>
<line x1="188.00" y1="1263.70" x2="212.15" y2="1263.70" stroke-width="1.0" stroke="#222"/>
<line x1="188.00" y1="1531.10" x2="212.15" y2="1531.10" stroke-width="1.0" stroke="#222"/>
<line x1="193.50" y1="1263.70" x2="193.50" y2="1531.10" stroke-width="1.0" stroke="#222"/>
<polygon points="193.50,1263.70 189.90,1284.20 197.10,1284.20" fill="#000" stroke="none"/>
<polygon points="193.50,1531.10 197.10,1510.60 189.90,1510.60" fill="#000" stroke="none"/>
<text transform="translate(353.70,1218.95) translate(-20.51,0) scale(0.8100,1)" font-size="26">81,5</text>
<text transform="translate(191.05,1394.00) rotate(-90) translate(-20.51,0) scale(0.8100,1)" font-size="26">80,5</text>
<rect x="252.30" y="1313.90" width="194.20" height="167.00" rx="0" stroke-width="2.5" />
<path d="M252.3,1336.2 H282.5 V1313.9 M446.5,1336.2 H416.8 V1313.9" stroke-width="1.9" />
<path d="M282.5,1336.2 Q349.6,1375 416.8,1336.2" stroke-width="1.9" />
<path d="M322.5,1481 Q349.4,1496 376.4,1481" stroke-width="1.8" />
<rect x="616.05" y="1263.60" width="13.75" height="267.70" rx="0" stroke-width="1.9" />
<path d="M629.9,1263.6 C640,1279 650,1303 659.6,1334.4" stroke-width="1.9" />
<path d="M629.9,1531.2 C640,1514 648,1497 653.5,1479" stroke-width="1.9" />
<path d="M642.3,1312.9 Q658.8,1395.6 645.6,1478.3" stroke-width="1.9" />
<path d="M659.6,1336 Q674.1,1407 660.5,1478.3" stroke-width="1.9" />
<path d="M642.3,1312.9 H657.2 C663,1312.9 666,1316 667.9,1321.1 C672,1331 677,1342 679.5,1349.3 C683,1365 684.2,1385 684,1398.9 C683.8,1420 682,1440 680.3,1456.8 L676.2,1478.3" stroke-width="1.9" />
<path d="M654.7,1313.4 C659,1314 661,1316 662.9,1319.5 C665,1325 666,1330 667.1,1334.4 L679.5,1351" stroke-width="1.9" />
<path d="M659.6,1335.2 H667.5 M659.6,1336 L649.4,1352" stroke-width="1.9" />
<path d="M644.7,1478.3 H676.2 M672,1478.3 L675.4,1488.2 H678.4 L676.2,1479" stroke-width="1.9" />
<path d="M616.1,1311.8 H606 V1369.5 Q606,1374.2 601.5,1374.2 H566.4 C560,1374.2 558,1377.6 552.7,1377.6 V1384" stroke-width="1.9" />
<path d="M616.1,1483 H606 V1425.3 Q606,1420.5 601.5,1420.5 H566.4 C560,1420.5 558,1417.2 552.7,1417.2 V1411.5" stroke-width="1.9" />
<path d="M606,1322 H589.2 V1374.2 M589.2,1362.8 H606" stroke-width="1.9" />
<path d="M606,1471.3 H589.2 V1420.5 M589.2,1430.2 H606" stroke-width="1.9" />
<path d="M589.4,1344.5 V1374.2 M589.4,1420.5 V1451" stroke-width="2.9" />
<path d="M588.1,1344 H546.5 Q545.5,1344 545.5,1345 V1380" stroke-width="1.9" />
<path d="M588.1,1451.3 H546.5 Q545.5,1451.3 545.5,1450.3 V1414.5" stroke-width="1.9" />
<path d="M 532.82,1397.40 L 523.07,1384.92 C 520.05,1380.73 523.95,1377.61 528.82,1377.61 C 533.21,1377.61 534.18,1379.46 536.62,1379.46 C 539.06,1379.46 540.52,1377.51 543.45,1377.51 C 547.84,1383.65 555.63,1386.09 564.61,1386.38 L 564.61,1408.42 C 555.63,1408.71 547.84,1411.15 543.45,1417.29 C 540.52,1417.29 539.06,1415.34 536.62,1415.34 C 534.18,1415.34 533.21,1417.19 528.82,1417.19 C 523.95,1417.19 520.05,1414.07 523.07,1409.88 Z" stroke-width="2.0" fill="#fff" stroke-linejoin="round"/>
<path d="M533.11,1378.88 L533.11,1415.93" stroke-width="2.0" />
<circle cx="543.06" cy="1397.40" r="4.60" stroke-width="2.0" />
<rect x="564.80" y="1384.04" width="11.90" height="26.82" rx="1" stroke-width="2.0" fill="#fff"/>
<path d="M564.80,1386.29 L575.13,1386.29 M564.80,1408.61 L575.13,1408.61" stroke-width="2.0" />
<path d="M575.33,1384.63 L575.33,1410.27" stroke-width="2.6" />
<line x1="522.20" y1="1216.70" x2="522.20" y2="1383.00" stroke-width="1.0" stroke="#222"/>
<line x1="683.00" y1="1216.70" x2="683.00" y2="1394.00" stroke-width="1.0" stroke="#222"/>
<line x1="522.20" y1="1222.30" x2="683.00" y2="1222.30" stroke-width="1.0" stroke="#222"/>
<polygon points="522.20,1222.30 542.70,1225.90 542.70,1218.70" fill="#000" stroke="none"/>
<polygon points="683.00,1222.30 662.50,1218.70 662.50,1225.90" fill="#000" stroke="none"/>
<line x1="615.90" y1="1243.10" x2="615.90" y2="1263.60" stroke-width="1.0" stroke="#222"/>
<line x1="615.90" y1="1251.90" x2="683.00" y2="1251.90" stroke-width="1.0" stroke="#222"/>
<polygon points="615.90,1251.90 636.40,1255.70 636.40,1248.10" fill="#000" stroke="none"/>
<polygon points="683.00,1251.90 662.50,1248.10 662.50,1255.70" fill="#000" stroke="none"/>
<text transform="translate(604.05,1217.00) translate(-19.55,0) scale(0.7734,1)" font-size="26">50,5</text>
<text transform="translate(630.70,1245.40) translate(-1.00,0) scale(0.7721,1)" font-size="26">20,0</text>
<circle cx="855.25" cy="1396.95" r="100.40" stroke-width="0.8" stroke="#222" stroke-dasharray="17 3 1.2 3"/>
<path d="M841.58,1291.33 A106.51,106.51 0 0 1 871.36,1291.67 A5.28,5.28 0 0 1 875.80,1297.83 L875.46,1299.45 A5.28,5.28 0 0 1 869.51,1303.74 A94.29,94.29 0 0 0 843.14,1303.44 A9.87,9.87 0 1 1 841.58,1291.33 Z" stroke-width="2.0" fill="#fff" stroke-linejoin="round"/>
<path d="M829.60,1299.88 A100.40,100.40 0 0 1 874.75,1298.46" stroke-width="0.8" stroke="#222" stroke-dasharray="11 2.5 1.5 2.5"/>
<path d="M960.45,1380.33 A106.51,106.51 0 0 1 960.94,1410.11 A5.28,5.28 0 0 1 954.91,1414.72 L953.27,1414.43 A5.28,5.28 0 0 1 948.82,1408.60 A94.29,94.29 0 0 0 948.39,1382.24 A9.87,9.87 0 1 1 960.45,1380.33 Z" stroke-width="2.0" fill="#fff" stroke-linejoin="round"/>
<path d="M951.57,1368.60 A100.40,100.40 0 0 1 954.24,1413.69" stroke-width="0.8" stroke="#222" stroke-dasharray="11 2.5 1.5 2.5"/>
<path d="M869.48,1502.50 A106.51,106.51 0 0 1 839.69,1502.31 A5.28,5.28 0 0 1 835.22,1496.18 L835.55,1494.55 A5.28,5.28 0 0 1 841.48,1490.23 A94.29,94.29 0 0 0 867.85,1490.40 A9.87,9.87 0 1 1 869.48,1502.50 Z" stroke-width="2.0" fill="#fff" stroke-linejoin="round"/>
<path d="M881.40,1493.88 A100.40,100.40 0 0 1 836.26,1495.54" stroke-width="0.8" stroke="#222" stroke-dasharray="11 2.5 1.5 2.5"/>
<path d="M749.42,1408.96 A106.51,106.51 0 0 1 750.24,1379.19 A5.28,5.28 0 0 1 756.46,1374.85 L758.08,1375.21 A5.28,5.28 0 0 1 762.28,1381.22 A94.29,94.29 0 0 0 761.56,1407.59 A9.87,9.87 0 1 1 749.42,1408.96 Z" stroke-width="2.0" fill="#fff" stroke-linejoin="round"/>
<path d="M757.79,1421.07 A100.40,100.40 0 0 1 757.08,1375.90" stroke-width="0.8" stroke="#222" stroke-dasharray="11 2.5 1.5 2.5"/>
<line x1="855.25" y1="1281.66" x2="855.25" y2="1513.21" stroke-width="0.8" stroke-dasharray="17 3 1.2 3" stroke="#222"/>
<line x1="745.83" y1="1396.95" x2="967.61" y2="1396.95" stroke-width="0.8" stroke-dasharray="17 3 1.2 3" stroke="#222"/>
<circle cx="760.00" cy="1301.40" r="6.65" stroke-width="1.9" />
<circle cx="760.00" cy="1492.50" r="6.65" stroke-width="1.9" />
<circle cx="950.50" cy="1301.40" r="6.65" stroke-width="1.9" />
<circle cx="950.50" cy="1492.50" r="6.65" stroke-width="1.9" />
<line x1="760.00" y1="1214.40" x2="760.00" y2="1312.90" stroke-width="0.8" stroke-dasharray="17 3 1.2 3" stroke="#222"/>
<line x1="760.00" y1="1476.50" x2="760.00" y2="1509.00" stroke-width="0.9" stroke="#222"/>
<line x1="950.50" y1="1214.40" x2="950.50" y2="1312.90" stroke-width="0.8" stroke-dasharray="17 3 1.2 3" stroke="#222"/>
<line x1="950.50" y1="1476.50" x2="950.50" y2="1509.00" stroke-width="0.9" stroke="#222"/>
<line x1="720.60" y1="1301.40" x2="738.00" y2="1301.40" stroke-width="0.9" stroke="#222"/>
<line x1="745.50" y1="1301.40" x2="777.00" y2="1301.40" stroke-width="0.9" stroke="#222"/>
<line x1="932.50" y1="1301.40" x2="966.00" y2="1301.40" stroke-width="0.9" stroke="#222"/>
<line x1="720.60" y1="1492.50" x2="738.00" y2="1492.50" stroke-width="0.9" stroke="#222"/>
<line x1="745.50" y1="1492.50" x2="777.00" y2="1492.50" stroke-width="0.9" stroke="#222"/>
<line x1="932.50" y1="1492.50" x2="966.00" y2="1492.50" stroke-width="0.9" stroke="#222"/>
<line x1="760.00" y1="1222.40" x2="950.50" y2="1222.40" stroke-width="1.0" stroke="#222"/>
<polygon points="760.00,1222.40 780.50,1226.00 780.50,1218.80" fill="#000" stroke="none"/>
<polygon points="950.50,1222.40 930.00,1218.80 930.00,1226.00" fill="#000" stroke="none"/>
<line x1="727.60" y1="1301.40" x2="727.60" y2="1492.50" stroke-width="1.0" stroke="#222"/>
<polygon points="727.60,1301.40 724.00,1321.90 731.20,1321.90" fill="#000" stroke="none"/>
<polygon points="727.60,1492.50 731.20,1472.00 724.00,1472.00" fill="#000" stroke="none"/>
<text transform="translate(851.15,1218.40) translate(-20.61,0) scale(0.8100,1)" font-size="26">58,4</text>
<text transform="translate(722.80,1399.25) rotate(-90) translate(-20.61,0) scale(0.8100,1)" font-size="26">58,4</text>
<line x1="807.85" y1="1256.05" x2="858.65" y2="1256.05" stroke-width="1.1" stroke="#222"/>
<line x1="807.85" y1="1256.05" x2="740.69" y2="1319.70" stroke-width="1.0" stroke="#222"/>
<polygon points="765.52,1296.17 781.40,1286.77 775.76,1280.81" fill="#000" stroke="none"/>
<polygon points="754.48,1306.63 738.60,1316.03 744.24,1321.99" fill="#000" stroke="none"/>
<circle cx="814.95" cy="1242.70" r="9.00" stroke-width="1.4" />
<line x1="805.95" y1="1252.00" x2="823.95" y2="1233.40" stroke-width="1.4" />
<text transform="translate(858.65,1250.30) translate(-27.75,0) scale(0.7895,1)" font-size="26">4,0</text>
<text transform="translate(805.00,1279.70) translate(-0.45,0) scale(0.8263,1)" font-size="25">4 отв.</text>
<line x1="984.20" y1="1342.75" x2="1033.00" y2="1342.75" stroke-width="1.1" stroke="#222"/>
<line x1="984.20" y1="1342.75" x2="931.68" y2="1394.68" stroke-width="1.0" stroke="#222"/>
<polygon points="960.64,1366.04 977.39,1355.25 971.63,1349.42" fill="#000" stroke="none"/>
<polygon points="945.19,1381.32 928.44,1392.12 934.21,1397.95" fill="#000" stroke="none"/>
<line x1="935.92" y1="1373.68" x2="970.92" y2="1373.68" stroke-width="0.9" stroke="#222"/>
<circle cx="992.10" cy="1329.60" r="9.10" stroke-width="1.4" />
<line x1="983.10" y1="1338.90" x2="1001.10" y2="1320.30" stroke-width="1.4" />
<text transform="translate(1036.30,1337.30) translate(-28.14,0) scale(0.8005,1)" font-size="26">6,0</text>
<text transform="translate(982.40,1366.60) translate(-0.45,0) scale(0.8216,1)" font-size="25">4 отв.</text>
<line x1="978.45" y1="1441.00" x2="1033.80" y2="1441.00" stroke-width="1.1" stroke="#222"/>
<path d="M948.36,1411.86 A94.29,94.29 0 0 1 941.52,1435.00" stroke-width="0.9" stroke="#222"/>
<path d="M960.42,1413.79 A106.51,106.51 0 0 1 952.70,1439.93" stroke-width="0.9" stroke="#222"/>
<polygon points="956.32,1430.54 971.02,1441.71 974.41,1434.24" fill="#000" stroke="none"/>
<polygon points="945.13,1425.46 930.43,1414.29 927.04,1421.76" fill="#000" stroke="none"/>
<line x1="926.92" y1="1417.20" x2="972.71" y2="1437.97" stroke-width="1.0" stroke="#222"/>
<line x1="972.71" y1="1437.97" x2="978.45" y2="1441.00" stroke-width="1.0" stroke="#222"/>
<text transform="translate(988.95,1437.90) translate(-0.79,0) scale(0.8009,1)" font-size="26">3,5</text>
<text transform="translate(974.50,1465.35) translate(-0.44,0) scale(0.7989,1)" font-size="25">4 паза</text>
<line x1="691.25" y1="1534.55" x2="757.55" y2="1534.55" stroke-width="1.1" stroke="#222"/>
<line x1="798.38" y1="1479.69" x2="912.12" y2="1314.21" stroke-width="1.0" stroke="#222"/>
<line x1="757.55" y1="1534.55" x2="798.38" y2="1479.69" stroke-width="1.0" stroke="#222"/>
<polygon points="912.12,1314.21 897.77,1328.37 904.03,1332.68" fill="#000" stroke="none"/>
<polygon points="798.38,1479.69 812.73,1465.53 806.47,1461.22" fill="#000" stroke="none"/>
<circle cx="702.35" cy="1520.70" r="9.10" stroke-width="1.4" />
<line x1="693.35" y1="1530.00" x2="711.35" y2="1511.40" stroke-width="1.4" />
<text transform="translate(756.75,1528.75) translate(-39.64,0) scale(0.7990,1)" font-size="26">60,0</text>
<text x="85.2" y="617.3" font-size="24.8" textLength="521.6" lengthAdjust="spacingAndGlyphs" xml:space="preserve">*предельное отклонение габаритных размеров ± 0,5 мм</text>
<text x="83.0" y="652.6" font-size="27.5" textLength="814.5" lengthAdjust="spacingAndGlyphs" xml:space="preserve">Рисунок 1 – Розетки РС10-2-КБ, РС10-2-ККм, РСш10-2-КБ, РСш10-2-ККм.</text>
<text x="83.0" y="685.7" font-size="27.5" textLength="804.5" lengthAdjust="spacingAndGlyphs" xml:space="preserve">Размер в скобках для РС10-2-ККБ,  РСш10-2-ККБ, РС10-2-КБ, РС10-2-Км</text>
<text x="85.2" y="1093.9" font-size="24.8" textLength="521.6" lengthAdjust="spacingAndGlyphs" xml:space="preserve">*предельное отклонение габаритных размеров ± 0,5 мм</text>
<text x="84.5" y="1130.8" font-size="27.5" textLength="812.5" lengthAdjust="spacingAndGlyphs" xml:space="preserve">Рисунок 2 – Розетки РС10-3-КБ, РС10-3-ККм, РСш10-3-КБ, РСш10-3-ККм.</text>
<text x="84.5" y="1163.9" font-size="27.5" textLength="1098.0" lengthAdjust="spacingAndGlyphs" xml:space="preserve">Размер в скобках для РС10-3-ККБ, РСш10-3-ККБ, РС10-3-КБ, РС10-3-Км, РСш10-3-КБ, РСш10-3-Км</text>
<text x="85.2" y="1598.6" font-size="24.8" textLength="521.6" lengthAdjust="spacingAndGlyphs" xml:space="preserve">*предельное отклонение габаритных размеров ± 0,5 мм</text>
<text x="83.0" y="1634.8" font-size="27.5" textLength="1028.0" lengthAdjust="spacingAndGlyphs" xml:space="preserve">Рисунок 3 – Розетки РСб10-3-КБ, РСб10-3-ККм, РСб10-3-ККБ, РСбш10-3-КБ, РСбш10-3-ККм,</text>
<text x="83.0" y="1668.5" font-size="27.5" textLength="163.5" lengthAdjust="spacingAndGlyphs" xml:space="preserve">РСбш10-3-ККБ</text>
</svg>
</body></html>
